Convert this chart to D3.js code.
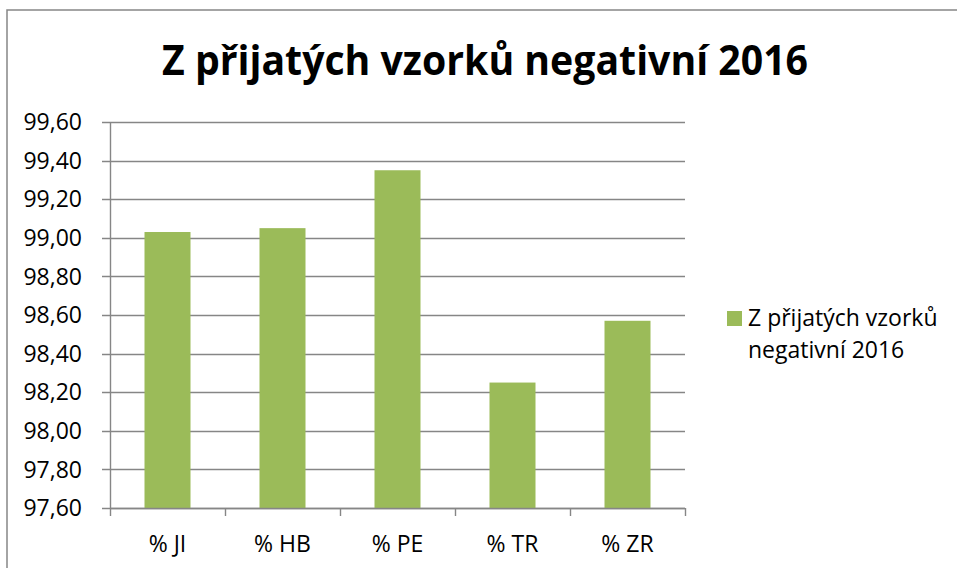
<!DOCTYPE html>
<html>
<head>
<meta charset="utf-8">
<script src="https://cdn.jsdelivr.net/npm/d3@7"></script>
<style>
  body { margin: 0; background: #fff; }
  text { font-family: "Open Sans", "Noto Sans", sans-serif; fill: #000; }
</style>
</head>
<body>
<div id="chart-area"></div>
<script>
const categories = ['% JI', '% HB', '% PE', '% TR', '% ZR']
const values = [99.03, 99.05, 99.35, 98.25, 98.57]
const yTicks = [97.6, 97.8, 98.0, 98.2, 98.4, 98.6, 98.8, 99.0, 99.2, 99.4, 99.6]
const seriesName = ['Z přijatých vzorků', 'negativní 2016']
const title = 'Z přijatých vzorků negativní 2016'

const W = 957
const H = 568
const PLOT = { LEFT: 110, RIGHT: 685, TOP: 122, BOTTOM: 508 }
const BAR_COLOR = '#9bbb59'
const GRID_COLOR = '#868686'
const LABEL_SIZE = '23px'

const svg = d3.select('#chart-area').append('svg')
  .attr('width', W)
  .attr('height', H)

// outer chart frame
svg.append('rect')
  .attr('x', 7)
  .attr('y', 10)
  .attr('width', W + 20)
  .attr('height', H + 20)
  .attr('fill', 'none')
  .attr('stroke', GRID_COLOR)
  .attr('stroke-width', 1.5)

// title
svg.append('text')
  .attr('x', 162)
  .attr('y', 75)
  .attr('font-size', '42px')
  .attr('font-weight', '700')
  .attr('textLength', 646)
  .attr('lengthAdjust', 'spacingAndGlyphs')
  .text(title)

const x = d3.scaleBand()
  .domain(categories)
  .range([PLOT.LEFT, PLOT.RIGHT])
  .paddingInner(0.6)
  .paddingOuter(0.3)

const xCat = d3.scaleBand()
  .domain(categories)
  .range([PLOT.LEFT, PLOT.RIGHT])

const y = d3.scaleLinear()
  .domain([d3.min(yTicks), d3.max(yTicks)])
  .range([PLOT.BOTTOM, PLOT.TOP])

const fmt = d3.formatLocale({ decimal: ',', thousands: ' ', grouping: [3], currency: ['', ''] }).format('.2f')

// horizontal gridlines
svg.append('g')
  .selectAll('line')
  .data(yTicks)
  .enter()
  .append('line')
  .attr('x1', PLOT.LEFT - 8)
  .attr('x2', PLOT.RIGHT)
  .attr('y1', d => Math.round(y(d)) + 0.5)
  .attr('y2', d => Math.round(y(d)) + 0.5)
  .attr('stroke', GRID_COLOR)
  .attr('stroke-width', 1.4)

// y axis line
svg.append('line')
  .attr('x1', PLOT.LEFT + 0.5)
  .attr('x2', PLOT.LEFT + 0.5)
  .attr('y1', PLOT.TOP)
  .attr('y2', PLOT.BOTTOM)
  .attr('stroke', GRID_COLOR)
  .attr('stroke-width', 1.4)

// y tick labels
svg.append('g')
  .selectAll('text')
  .data(yTicks)
  .enter()
  .append('text')
  .attr('x', 82)
  .attr('y', d => y(d))
  .attr('dy', '0.36em')
  .attr('text-anchor', 'end')
  .attr('font-size', LABEL_SIZE)
  .text(d => fmt(d))

// bars
svg.append('g')
  .selectAll('rect')
  .data(values)
  .enter()
  .append('rect')
  .attr('x', (d, i) => x(categories[i]))
  .attr('y', d => y(d))
  .attr('width', x.bandwidth())
  .attr('height', d => PLOT.BOTTOM - y(d))
  .attr('fill', BAR_COLOR)

// x axis line + category ticks
svg.append('line')
  .attr('x1', PLOT.LEFT)
  .attr('x2', PLOT.RIGHT)
  .attr('y1', PLOT.BOTTOM + 0.5)
  .attr('y2', PLOT.BOTTOM + 0.5)
  .attr('stroke', GRID_COLOR)
  .attr('stroke-width', 1.4)

const tickPos = categories.map(c => xCat(c)).concat([PLOT.RIGHT])
svg.append('g')
  .selectAll('line')
  .data(tickPos)
  .enter()
  .append('line')
  .attr('x1', d => Math.round(d) + 0.5)
  .attr('x2', d => Math.round(d) + 0.5)
  .attr('y1', PLOT.BOTTOM)
  .attr('y2', PLOT.BOTTOM + 8)
  .attr('stroke', GRID_COLOR)
  .attr('stroke-width', 1.4)

svg.append('g')
  .selectAll('text')
  .data(categories)
  .enter()
  .append('text')
  .attr('x', d => xCat(d) + xCat.bandwidth() / 2)
  .attr('y', 552)
  .attr('text-anchor', 'middle')
  .attr('font-size', LABEL_SIZE)
  .text(d => d)

// legend
const legend = svg.append('g')
legend.append('rect')
  .attr('x', 727)
  .attr('y', 311)
  .attr('width', 15)
  .attr('height', 15)
  .attr('fill', BAR_COLOR)

legend.selectAll('text')
  .data(seriesName)
  .enter()
  .append('text')
  .attr('x', 748)
  .attr('y', (d, i) => 326 + i * 32)
  .attr('font-size', LABEL_SIZE)
  .text(d => d)
</script>
</body>
</html>
